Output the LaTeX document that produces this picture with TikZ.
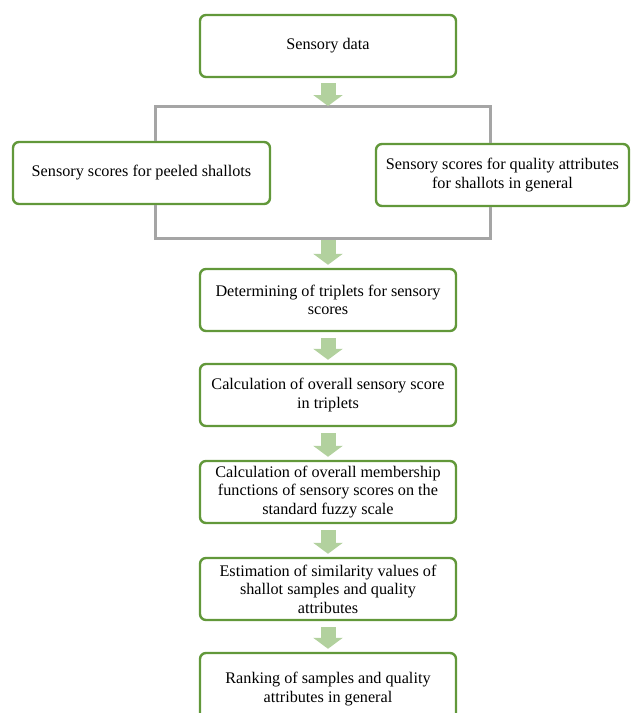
\documentclass[tikz,border=0pt]{standalone}
\usepackage{fontspec}
\setmainfont{Liberation Serif}
\usetikzlibrary{positioning,calc,arrows.meta}
\definecolor{boxgreen}{RGB}{98,152,58}
\definecolor{arrowgreen}{RGB}{178,209,158}
\definecolor{bracketgray}{RGB}{165,165,165}
\tikzset{
	stepbox/.style={draw=boxgreen,line width=2.4pt,rounded corners=6pt,fill=white,align=center,
		font=\fontsize{16.2}{18.5}\selectfont,inner sep=0pt,minimum width=256pt,minimum height=62pt},
	fatarrow/.style={-{Triangle[width=29pt,length=11pt]},line width=15pt,draw=arrowgreen},
	bracket/.style={draw=bracketgray,line width=3pt}
}

\begin{document}
\begin{tikzpicture}[x=1pt,y=-1pt]
		\def\cx{328}
		\def\bl{155}
		\def\br{490}
		\clip (0,0) rectangle (632,713);
		% boxes
		\node[stepbox] (data) at (\cx,46) {Sensory data};
		\node[stepbox,minimum width=257pt] (peeled) at (141.5,173) {Sensory scores for peeled shallots};
		\node[stepbox,minimum width=253pt] (quality) at (502.5,175) {Sensory scores for quality attributes\\for shallots in general};
		\node[stepbox] (triplets) at (\cx,300) {Determining of triplets for sensory\\scores};
		\node[stepbox] (overall) at (\cx,395) {Calculation of overall sensory score\\in triplets};
		\node[stepbox] (membership) at (\cx,492) {Calculation of overall membership\\functions of sensory scores on the\\standard fuzzy scale};
		\node[stepbox] (similarity) at (\cx,589) {Estimation of similarity values of\\shallot samples and quality\\attributes};
		\node[stepbox,minimum height=72pt] (ranking) at (\cx,689) {Ranking of samples and quality\\attributes in general};
		% bracket
		\coordinate (tl) at (\bl,106);
		\coordinate (tr) at (\br,106);
		\coordinate (bl) at (\bl,238);
		\coordinate (br) at (\br,238);
		\draw[bracket] (tl |- peeled.north) -- (tl) -- (tr) -- (tr |- quality.north);
		\draw[bracket] (bl |- peeled.south) -- (bl) -- (br) -- (br |- quality.south);
		% arrows
		\draw[fatarrow] ($(data.south)+(0,5)$) -- (data.south |- tl);
		\draw[fatarrow] ($(triplets.north |- bl)+(0,2)$) -- ($(triplets.north)+(0,-3)$);
		\foreach \a/\b in {triplets/overall,overall/membership,membership/similarity,similarity/ranking}{
			\draw[fatarrow] ($(\a.south)+(0,6)$) -- ($(\b.north)+(0,-3)$);
		}
	\end{tikzpicture}
\end{document}
